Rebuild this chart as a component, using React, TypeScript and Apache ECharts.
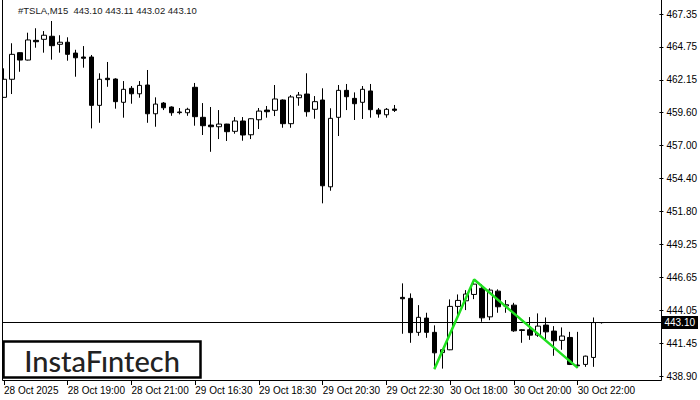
import React, { useEffect, useRef } from "react";
import * as echarts from "echarts";

// ---- data ----
const sessionDays = ["28 Oct", "29 Oct", "30 Oct"];
const sessionStarts = ["17:00", "16:30", "16:30"];
const sessionBars = [24, 26, 26];
const futureSlots = 7;

const xTickLabels = [
  "28 Oct 2025", "28 Oct 19:00", "28 Oct 21:00", "29 Oct 16:30", "29 Oct 18:30",
  "29 Oct 20:30", "29 Oct 22:30", "30 Oct 18:00", "30 Oct 20:00", "30 Oct 22:00",
];
const xTickEvery = 8;

const yTickLabels = [
  "438.90", "441.45", "444.05", "446.65", "449.25", "451.80",
  "454.40", "457.00", "459.60", "462.15", "464.75", "467.35",
];
const yMin = 438.9;
const yMax = 467.35;

const opens = [
  460.80, 462.22, 464.31, 463.73, 465.28, 465.36, 465.60, 464.97, 465.13, 464.28,
  463.97, 463.97, 460.17, 462.30, 462.24, 460.41, 461.51, 461.08, 461.77, 459.51,
  460.35, 460.04, 459.65, 459.59, 461.59, 459.23, 458.62, 458.49, 458.70, 458.13,
  458.94, 457.86, 459.04, 459.80, 459.78, 460.59, 458.73, 460.77, 461.06, 459.86,
  460.59, 453.77, 459.23, 461.35, 460.72, 460.41, 461.30, 459.80, 459.43, 459.88,
  445.08, 445.00, 442.33, 443.45, 442.33, 440.74, 440.96, 444.37, 444.81, 445.31,
  445.79, 443.55, 445.57, 444.40, 444.47, 442.53, 442.53, 442.11, 442.90, 442.43,
  441.70, 441.93, 439.76, 439.81, 440.36, 443.10,
];
const closes = [
  462.22, 464.18, 463.73, 465.31, 465.17, 465.68, 464.86, 465.13, 464.18, 463.91,
  463.87, 460.17, 462.22, 462.19, 460.46, 461.43, 461.08, 461.74, 459.51, 460.27,
  459.98, 459.59, 459.60, 459.86, 459.28, 458.57, 458.49, 458.70, 458.10, 458.94,
  457.84, 459.12, 459.72, 459.67, 460.67, 458.73, 460.83, 460.98, 459.67, 460.46,
  453.85, 459.15, 461.35, 460.85, 460.30, 461.43, 459.83, 459.49, 459.86, 459.78,
  444.97, 442.31, 443.51, 442.33, 440.72, 440.97, 444.37, 444.84, 445.34, 446.12,
  443.47, 445.65, 444.34, 444.50, 442.45, 442.48, 442.11, 442.82, 442.37, 441.67,
  442.04, 439.81, 439.70, 440.46, 443.10, 443.10,
];
const lows = [
  460.78, 461.06, 462.81, 463.70, 464.70, 464.31, 463.76, 464.31, 463.68, 462.42,
  463.13, 458.36, 458.80, 461.63, 459.91, 459.20, 460.30, 460.77, 458.80, 458.49,
  459.80, 459.35, 459.46, 459.35, 458.57, 457.84, 456.52, 457.52, 457.37, 457.94,
  457.39, 457.52, 458.31, 459.20, 459.33, 458.41, 458.41, 460.14, 459.28, 459.12,
  452.47, 453.46, 457.76, 459.80, 459.02, 459.10, 459.20, 459.20, 459.20, 459.65,
  442.22, 441.51, 442.06, 441.90, 439.44, 439.48, 440.93, 443.55, 444.08, 444.94,
  443.16, 443.29, 443.87, 443.87, 442.37, 441.51, 441.74, 441.98, 441.72, 440.49,
  440.96, 439.76, 439.54, 439.62, 439.62, 443.02,
];
const highs = [
  463.08, 465.05, 464.33, 465.88, 466.23, 466.01, 466.80, 465.68, 465.52, 464.54,
  464.83, 464.13, 462.69, 463.58, 462.30, 462.08, 461.69, 462.08, 462.95, 460.80,
  460.43, 460.09, 459.96, 459.98, 461.93, 460.35, 460.04, 459.80, 458.72, 459.25,
  459.25, 459.15, 459.96, 460.12, 461.77, 460.64, 460.98, 461.22, 462.69, 460.90,
  461.51, 459.94, 461.77, 461.85, 461.19, 461.69, 461.85, 459.96, 459.96, 460.20,
  446.18, 445.39, 444.47, 443.87, 442.88, 441.01, 444.92, 445.31, 445.65, 446.49,
  446.10, 445.79, 445.71, 444.87, 444.65, 442.58, 443.53, 443.82, 443.50, 442.82,
  442.72, 442.37, 442.37, 440.50, 443.50, 443.11,
];

const patternIdx = [54, 59, 72];
const patternVals = [439.44, 446.49, 439.54];

const bidPrice = 443.1;
const titleText = "#TSLA,M15  443.10 443.11 443.02 443.10";
const logoText = "InstaFıntech";

// ---- helpers ----
function buildCategories(): string[] {
  const out: string[] = [];
  sessionDays.forEach((d, s) => {
    const [hh, mm] = sessionStarts[s].split(":").map(Number);
    let m = hh * 60 + mm;
    for (let k = 0; k < sessionBars[s]; k++) {
      const h = Math.floor(m / 60);
      const mi = m % 60;
      out.push(`${d} ${String(h).padStart(2, "0")}:${String(mi).padStart(2, "0")}`);
      m += 15;
    }
  });
  for (let k = 0; k < futureSlots; k++) out.push("");
  return out;
}

export default function App() {
  const ref = useRef<HTMLDivElement>(null);
  useEffect(() => {
    if (!ref.current) return;
    const chart = echarts.init(ref.current, null, { renderer: "svg" });
    const categories = buildCategories();
    const ohlc = opens.map((o, i) => [o, closes[i], lows[i], highs[i]]);
    const yStep = (yMax - yMin) / (yTickLabels.length - 1);
    const font = "Liberation Sans";

    chart.setOption({
      animation: false,
      backgroundColor: "#ffffff",
      grid: { left: -0.5, right: 36.5, top: 14, bottom: 24, containLabel: false },
      xAxis: {
        type: "category",
        data: categories,
        boundaryGap: true,
        offset: 4,
        axisLine: { show: false },
        axisTick: {
          show: true,
          alignWithLabel: true,
          interval: (idx: number) => idx % xTickEvery === 0 && idx / xTickEvery < xTickLabels.length,
          length: 5,
          lineStyle: { color: "#000", width: 1 },
        },
        axisLabel: {
          interval: (idx: number) => idx % xTickEvery === 0 && idx / xTickEvery < xTickLabels.length,
          formatter: (_v: string, idx: number) =>
            idx % xTickEvery === 0 ? xTickLabels[idx / xTickEvery] ?? "" : "",
          align: "left",
          margin: 5,
          color: "#000",
          fontSize: 10,
          fontFamily: font,
        },
        splitLine: { show: false },
      },
      yAxis: {
        type: "value",
        position: "right",
        min: yMin,
        max: yMax,
        interval: yStep,
        offset: -2,
        scale: true,
        axisLine: { show: false },
        axisTick: { show: true, length: 4, lineStyle: { color: "#000", width: 1 } },
        axisLabel: {
          margin: 7,
          color: "#000",
          fontSize: 10,
          fontFamily: font,
          showMaxLabel: true,
          formatter: (v: number) => {
            const k = Math.round((v - yMin) / yStep);
            return Math.abs(v - (yMin + k * yStep)) < 1e-3 && yTickLabels[k] ? yTickLabels[k] : "";
          },
        },
        splitLine: { show: false },
      },
      series: [
        {
          type: "candlestick",
          data: ohlc,
          barWidth: 5,
          itemStyle: {
            color: "#ffffff",
            color0: "#000000",
            borderColor: "#000000",
            borderColor0: "#000000",
            borderWidth: 1,
          },
          markLine: {
            silent: true,
            symbol: "none",
            lineStyle: { color: "#000", width: 1, type: "solid" },
            label: {
              show: true,
              position: "end",
              distance: 0,
              formatter: bidPrice.toFixed(2),
              backgroundColor: "#000",
              color: "#fff",
              fontSize: 10,
              fontFamily: font,
              padding: [2, 3, 1, 3],
            },
            data: [{ yAxis: bidPrice }],
          },
          z: 2,
        },
        {
          type: "line",
          data: patternIdx.map((x, i) => [x, patternVals[i]]),
          symbol: "none",
          lineStyle: { color: "#1fe01f", width: 2.5 },
          z: 5,
        },
      ],
      graphic: [
        { type: "rect", shape: { x: 0, y: 0, width: 2, height: 381 }, style: { fill: "#fff" }, z: 100 },
        { type: "line", shape: { x1: 2.5, y1: 0, x2: 2.5, y2: 380.5 }, style: { stroke: "#000", lineWidth: 1 }, z: 101 },
        { type: "line", shape: { x1: 661.5, y1: 0, x2: 661.5, y2: 380.5 }, style: { stroke: "#000", lineWidth: 1 }, z: 101 },
        { type: "line", shape: { x1: 2.5, y1: 380.5, x2: 661.5, y2: 380.5 }, style: { stroke: "#000", lineWidth: 1 }, z: 101 },
        {
          type: "text",
          x: 18,
          y: 5,
          style: { text: titleText, fill: "#1a1a1a", fontSize: 9.5, fontFamily: font },
          z: 101,
        },
        {
          type: "rect",
          shape: { x: 3.5, y: 341.5, width: 197, height: 36 },
          style: { fill: "#fff", stroke: "#000", lineWidth: 2.5 },
          z: 102,
        },
        {
          type: "text",
          x: 102,
          y: 360,
          style: {
            text: logoText,
            fill: "#222",
            fontSize: 29,
            fontWeight: 500,
            fontFamily: "Lato",
            align: "center",
            verticalAlign: "middle",
          },
          z: 103,
        },
      ],
    });
    return () => chart.dispose();
  }, []);
  return (
    <div
      ref={ref}
      style={{ position: "fixed", left: 0, top: 0, width: 700, height: 400, background: "#fff" }}
    />
  );
}
